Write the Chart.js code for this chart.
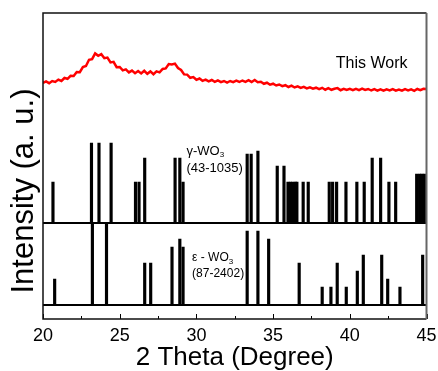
<!DOCTYPE html>
<html>
<head>
<meta charset="utf-8">
<script src="https://cdn.jsdelivr.net/npm/chart.js@4.4.1/dist/chart.umd.min.js"></script>
<style>
html, body { margin: 0; padding: 0; background: #fff; }
#wrap { width: 438px; height: 371px; }
</style>
</head>
<body>
<div id="wrap"><canvas id="xrd" width="438" height="371"></canvas></div>
<script>
// measured scan (2 theta, intensity on an arbitrary offset scale)
const scanAngle = [
  20.0, 20.2, 20.4, 20.6, 20.8, 21.0, 21.2, 21.4, 21.6, 21.8,
  22.0, 22.2, 22.4, 22.6, 22.8, 23.0, 23.2, 23.4, 23.6, 23.8,
  24.0, 24.2, 24.4, 24.6, 24.8, 25.0, 25.2, 25.4, 25.6, 25.8,
  26.0, 26.2, 26.4, 26.6, 26.8, 27.0, 27.2, 27.4, 27.6, 27.8,
  28.0, 28.2, 28.4, 28.6, 28.8, 29.0, 29.2, 29.4, 29.6, 29.8,
  30.0, 30.2, 30.4, 30.6, 30.8, 31.0, 31.2, 31.4, 31.6, 31.8,
  32.0, 32.2, 32.4, 32.6, 32.8, 33.0, 33.2, 33.4, 33.6, 33.8,
  34.0, 34.2, 34.4, 34.6, 34.8, 35.0, 35.2, 35.4, 35.6, 35.8,
  36.0, 36.2, 36.4, 36.6, 36.8, 37.0, 37.2, 37.4, 37.6, 37.8,
  38.0, 38.2, 38.4, 38.6, 38.8, 39.0, 39.2, 39.4, 39.6, 39.8,
  40.0, 40.2, 40.4, 40.6, 40.8, 41.0, 41.2, 41.4, 41.6, 41.8,
  42.0, 42.2, 42.4, 42.6, 42.8, 43.0, 43.2, 43.4, 43.6, 43.8,
  44.0, 44.2, 44.4, 44.6, 44.8, 45.0
];
const scanIntensity = [
  236.0, 237.6, 235.8, 238.0, 237.1, 239.4, 238.0, 241.0, 240.2, 243.2,
  243.0, 247.0, 246.8, 252.0, 253.0, 259.2, 259.8, 265.6, 263.2, 264.8,
  260.8, 261.4, 256.6, 257.2, 251.8, 252.0, 248.6, 249.6, 246.6, 248.4,
  245.8, 248.0, 245.6, 248.2, 245.2, 247.6, 244.8, 247.6, 246.6, 250.0,
  250.6, 254.9, 254.6, 255.4, 251.0, 249.0, 244.6, 244.4, 241.2, 241.9,
  239.2, 240.5, 238.2, 239.4, 237.6, 239.0, 237.1, 238.6, 236.9, 238.0,
  236.5, 238.0, 236.8, 238.3, 237.0, 238.5, 237.2, 238.9, 237.0, 239.0,
  236.8, 237.2, 235.2, 236.3, 234.3, 235.3, 233.5, 234.5, 232.9, 233.8,
  232.0, 233.3, 231.5, 232.6, 231.1, 232.2, 230.6, 231.7, 230.3, 231.3,
  229.9, 231.2, 229.3, 230.8, 229.2, 230.3, 230.9, 228.8, 230.2, 229.0,
  230.2, 228.8, 230.1, 228.9, 230.3, 229.0, 230.0, 228.5, 229.8, 228.4,
  229.7, 228.3, 229.6, 228.5, 229.9, 228.4, 229.5, 228.3, 229.8, 228.5,
  229.6, 228.2, 230.0, 228.8, 230.2, 230.0
];

// gamma-WO3 reference (43-1035)
const gammaAngle = [20.65, 23.16, 23.65, 24.44, 26.03, 26.26, 26.63, 28.61, 28.92, 29.13,
  33.31, 33.57, 34.01, 35.27, 35.71, 35.97, 36.13, 36.29, 36.45, 36.55,
  36.96, 37.29, 38.66, 38.88, 39.14, 39.75, 40.46, 40.94, 41.46, 42.01,
  42.55, 42.99, 44.36, 44.55, 44.70, 44.86];
const gammaHeight = [41, 80, 80, 80, 41, 41, 65, 65, 65, 41,
  69, 69, 72, 57, 57, 41, 41, 41, 41, 41,
  41, 41, 41, 41, 41, 41, 41, 41, 65, 65,
  41, 41, 49, 49, 49, 49];

// epsilon-WO3 reference (87-2402)
const epsAngle = [20.76, 23.22, 24.14, 26.63, 27.02, 28.41, 28.92, 29.13, 33.31, 34.01,
  34.71, 36.70, 38.20, 38.77, 39.18, 39.77, 40.49, 40.88, 42.08, 42.47, 43.27, 44.75];
const epsHeight = [26, 82, 81, 42, 42, 58, 66, 58, 74, 74,
  66, 42, 18, 18, 42, 18, 34, 50, 50, 26, 18, 50];

const gammaBase = 96;
const epsBase = 14;
const minorTicks = [22.5, 27.5, 32.5, 37.5, 42.5];
const majorTicks = [20, 25, 30, 35, 40, 45];

const FONT = '"Liberation Sans", Arial, sans-serif';

const sticks = gammaAngle.map((a, i) => ({ x: a, y: [gammaBase, gammaBase + gammaHeight[i]] }))
  .concat(epsAngle.map((a, i) => ({ x: a, y: [epsBase, epsBase + epsHeight[i]] })));

const framePlugin = {
  id: 'frame',
  afterDraw(chart) {
    const { ctx, chartArea: a, scales: { x, y } } = chart;
    ctx.save();
    // ticks pointing inward
    ctx.strokeStyle = '#000';
    ctx.lineWidth = 1;
    majorTicks.forEach(v => {
      const px = Math.round(x.getPixelForValue(v)) + 0.5;
      ctx.beginPath(); ctx.moveTo(px, a.bottom); ctx.lineTo(px, a.bottom - 5); ctx.stroke();
    });
    minorTicks.forEach(v => {
      const px = Math.round(x.getPixelForValue(v)) + 0.5;
      ctx.beginPath(); ctx.moveTo(px, a.bottom); ctx.lineTo(px, a.bottom - 3); ctx.stroke();
    });
    // box
    ctx.lineWidth = 1.5;
    ctx.strokeStyle = '#111';
    ctx.beginPath();
    ctx.moveTo(a.right, a.top); ctx.lineTo(a.left, a.top); ctx.lineTo(a.left, a.bottom); ctx.lineTo(a.right, a.bottom);
    ctx.stroke();
    ctx.strokeStyle = '#666';
    ctx.lineWidth = 2;
    ctx.beginPath(); ctx.moveTo(a.right, a.top); ctx.lineTo(a.right, a.bottom); ctx.stroke();

    // labels
    ctx.fillStyle = '#000';
    ctx.textBaseline = 'middle';
    ctx.textAlign = 'left';
    ctx.font = '16px ' + FONT;
    ctx.fillText('This Work', x.getPixelForValue(39.09), y.getPixelForValue(255));

    const sub = (pre, ax, ay, size) => {
      const px = x.getPixelForValue(ax), py = y.getPixelForValue(ay);
      ctx.font = size + 'px ' + FONT;
      ctx.fillText(pre, px, py);
      const w = ctx.measureText(pre).width;
      ctx.font = Math.round(size * 0.65) + 'px ' + FONT;
      ctx.fillText('3', px + w, py + size * 0.3);
    };
    sub('γ-WO', 29.35, 168, 13);
    ctx.font = '13px ' + FONT;
    ctx.fillText('(43-1035)', x.getPixelForValue(29.35), y.getPixelForValue(151));
    sub('ε - WO', 29.72, 61, 12);
    ctx.font = '12px ' + FONT;
    ctx.fillText('(87-2402)', x.getPixelForValue(29.72), y.getPixelForValue(45));

    // y title
    ctx.translate(24, 191);
    ctx.rotate(-Math.PI / 2);
    ctx.textAlign = 'center';
    ctx.font = '31px ' + FONT;
    ctx.fillText('Intensity (a. u.)', 0, 0);
    ctx.restore();
  }
};

new Chart(document.getElementById('xrd'), {
  type: 'bar',
  data: {
    datasets: [
      {
        type: 'line',
        data: scanAngle.map((a, i) => ({ x: a, y: scanIntensity[i] })),
        borderColor: '#ff0000', borderWidth: 2.5, pointRadius: 0, tension: 0
      },
      {
        type: 'line',
        data: [{ x: 20, y: gammaBase }, { x: 45, y: gammaBase }],
        borderColor: '#000', borderWidth: 2, pointRadius: 0
      },
      {
        type: 'line',
        data: [{ x: 20, y: epsBase }, { x: 45, y: epsBase }],
        borderColor: '#000', borderWidth: 2, pointRadius: 0
      },
      {
        type: 'bar',
        data: sticks,
        backgroundColor: '#000', borderWidth: 0, barThickness: 2.5, grouped: false
      }
    ]
  },
  options: {
    responsive: false,
    animation: false,
    layout: { padding: { left: 43, right: 11.5, top: 13, bottom: 0 } },
    plugins: { legend: { display: false }, tooltip: { enabled: false } },
    scales: {
      x: {
        type: 'linear', min: 20, max: 45, offset: false,
        grid: { display: false, drawTicks: false },
        border: { display: false },
        afterFit(scale) { scale.paddingLeft = 0; scale.paddingRight = 0; },
        ticks: { stepSize: 5, maxRotation: 0, padding: 8, color: '#000', font: { family: FONT, size: 18, lineHeight: 1 } },
        title: { display: true, text: '2 Theta (Degree)', color: '#000', padding: { top: -8, bottom: 0 }, font: { family: FONT, size: 26, lineHeight: 1 } }
      },
      y: { display: false, min: 0, max: 306 }
    }
  },
  plugins: [framePlugin]
});
</script>
</body>
</html>
